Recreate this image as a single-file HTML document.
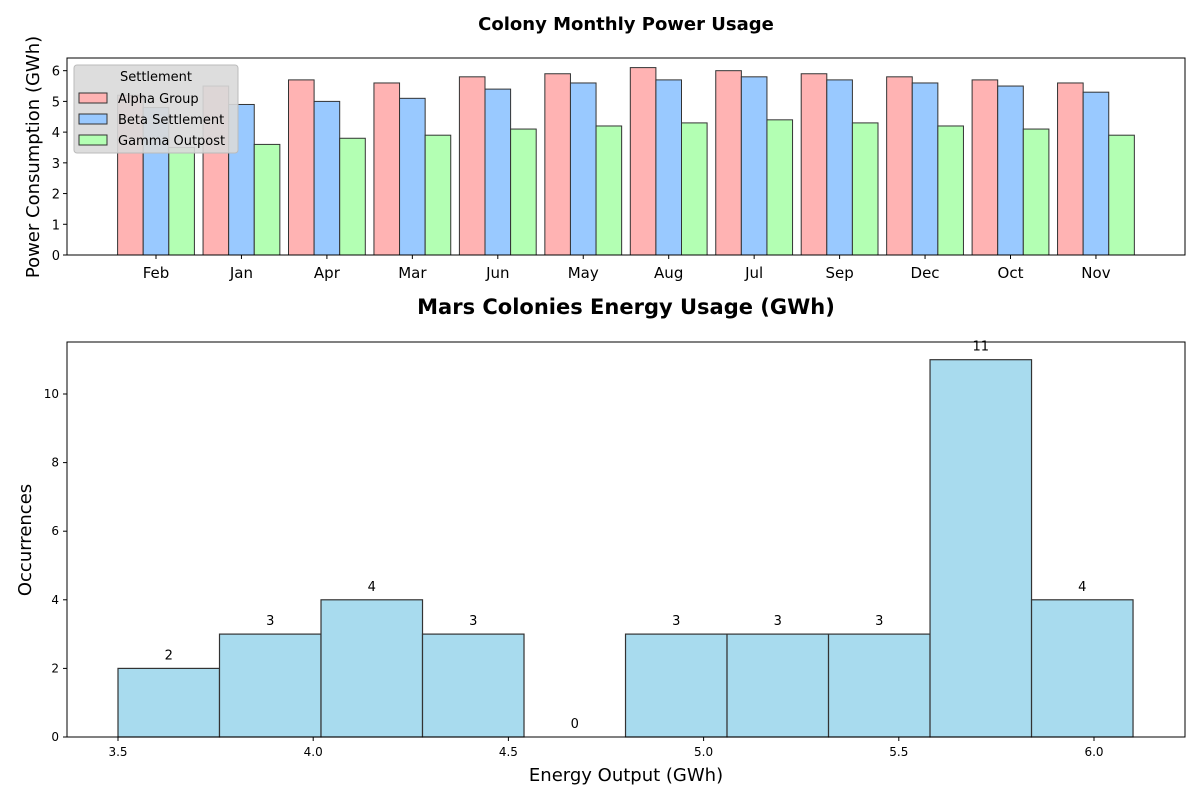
<!DOCTYPE html>
<html><head><meta charset="utf-8"><style>body{margin:0;background:#fff}svg{display:block;font-family:"DejaVu Sans","Liberation Sans",sans-serif}</style></head>
<body>
<svg id="c" width="1200" height="800"></svg>
<script>
const months=["Feb","Jan","Apr","Mar","Jun","May","Aug","Jul","Sep","Dec","Oct","Nov"];
const alpha=[5.2,5.5,5.7,5.6,5.8,5.9,6.1,6.0,5.9,5.8,5.7,5.6];
const beta=[4.8,4.9,5.0,5.1,5.4,5.6,5.7,5.8,5.7,5.6,5.5,5.3];
const gamma=[3.5,3.6,3.8,3.9,4.1,4.2,4.3,4.4,4.3,4.2,4.1,3.9];
const topTicks=[0,1,2,3,4,5,6];
const binEdges=[3.5,3.76,4.02,4.28,4.54,4.8,5.06,5.32,5.58,5.84,6.1];
const counts=[2,3,4,3,0,3,3,3,11,4];
const histXTicks=[3.5,4.0,4.5,5.0,5.5,6.0];
const histYTicks=[0,2,4,6,8,10];
const NS="http://www.w3.org/2000/svg",svg=document.getElementById('c');
function el(t,a,txt,p){const e=document.createElementNS(NS,t);for(const k in a)e.setAttribute(k,a[k]);if(txt!=null)e.textContent=txt;(p||svg).appendChild(e);return e;}
const tx=i=>156+i*85.45, ty=v=>255-v*30.72, bw=25.6;
const series=[[alpha,"#ffb3b3",-1],[beta,"#99c9ff",0],[gamma,"#b3ffb3",1]];
series.forEach(([d,c,o])=>d.forEach((v,i)=>{
 const r=el('rect',{x:tx(i)+o*bw-bw/2,y:ty(v),width:bw,height:v*30.72,fill:c,stroke:"#333",'stroke-width':1});
 
 
}));
el('rect',{x:67,y:58,width:1118,height:197,fill:"none",stroke:"#000",'stroke-width':1,});
topTicks.forEach(t=>{el('line',{x1:63,x2:67,y1:ty(t),y2:ty(t),stroke:"#000"});
 const e=el('text',{x:60,y:ty(t)+5,'text-anchor':'end','font-size':13},t);});
months.forEach((m,i)=>{el('line',{x1:tx(i),x2:tx(i),y1:255,y2:259,stroke:"#000"});
 const e=el('text',{x:tx(i),y:278,'text-anchor':'middle','font-size':15},m);});
el('text',{x:626,y:30,'text-anchor':'middle','font-size':18,'font-weight':'bold',},"Colony Monthly Power Usage");
el('text',{x:0,y:0,transform:"translate(39,157) rotate(-90)",'text-anchor':'middle','font-size':18,},"Power Consumption (GWh)");
const lg=el('g',{});
el('rect',{x:74,y:65,width:164,height:88,rx:3,fill:"#d9d9d9",'fill-opacity':0.9,stroke:"#bbb"},null,lg);
el('text',{x:156,y:81,'text-anchor':'middle','font-size':13},"Settlement",lg);
[["Alpha Group","#ffb3b3"],["Beta Settlement","#99c9ff"],["Gamma Outpost","#b3ffb3"]].forEach(([n,c],k)=>{
 const g=el('g',{},null,lg);
 el('rect',{x:79,y:93+k*21,width:28,height:10,fill:c,stroke:"#333"},null,g);
 el('text',{x:118,y:103+k*21,'font-size':13},n,g);
});
const hx=v=>118+(v-3.5)*390.4, hy=v=>737-v*34.3;
counts.forEach((c,i)=>{
 const x0=hx(binEdges[i]),x1=hx(binEdges[i+1]);
 const r=el('rect',{x:x0,y:hy(c),width:x1-x0,height:c*34.3,fill:"#a8dbee",stroke:"#333",'stroke-width':1.2});
 
 
 const t=el('text',{x:(x0+x1)/2,y:hy(c)-9,'text-anchor':'middle','font-size':13},c);
 
 
});
el('rect',{x:67,y:342,width:1118,height:395,fill:"none",stroke:"#000",});
histXTicks.forEach(t=>{el('line',{x1:hx(t),x2:hx(t),y1:737,y2:741,stroke:"#000"});
 const e=el('text',{x:hx(t),y:756,'text-anchor':'middle','font-size':12},t.toFixed(1));});
histYTicks.forEach(t=>{el('line',{x1:63,x2:67,y1:hy(t),y2:hy(t),stroke:"#000"});
 const e=el('text',{x:59,y:hy(t)+4,'text-anchor':'end','font-size':12},t);});
el('text',{x:626,y:314,'text-anchor':'middle','font-size':21,'font-weight':'bold',},"Mars Colonies Energy Usage (GWh)");
el('text',{x:626,y:781,'text-anchor':'middle','font-size':18,},"Energy Output (GWh)");
el('text',{x:0,y:0,transform:"translate(31,540) rotate(-90)",'text-anchor':'middle','font-size':18,},"Occurrences");
</script>
</body></html>
